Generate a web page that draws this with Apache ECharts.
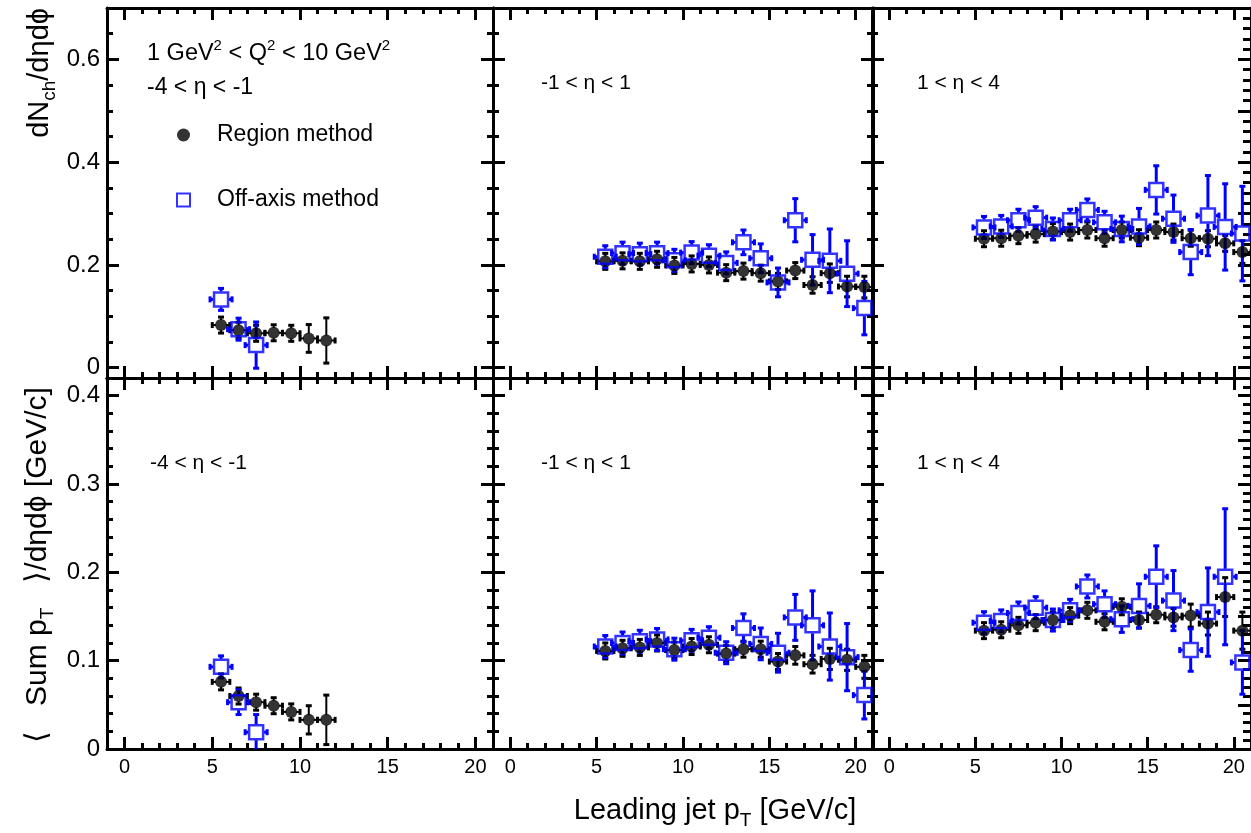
<!DOCTYPE html>
<html>
<head>
<meta charset="utf-8">
<script src="https://cdn.jsdelivr.net/npm/echarts@6/dist/echarts.min.js"></script>
<style>
  html, body { margin: 0; padding: 0; background: #ffffff; }
  #chart { width: 1251px; height: 833px; }
</style>
</head>
<body>
<div id="chart"></div>
<script>
// Leading-jet pT bin centres (bins are 1 GeV/c wide)
const PT_BINS = [5.5, 6.5, 7.5, 8.5, 9.5, 10.5, 11.5, 12.5, 13.5, 14.5, 15.5, 16.5, 17.5, 18.5, 19.5, 20.5];
const PT_HALF_WIDTH = 0.5;

// Tick positions
const PT_TICKS = [0, 5, 10, 15, 20];
const PT_MINOR = [1, 2, 3, 4, 6, 7, 8, 9, 11, 12, 13, 14, 16, 17, 18, 19];
const NCH_TICKS = [0, 0.2, 0.4, 0.6];
const NCH_MINOR = [0.05, 0.1, 0.15, 0.25, 0.3, 0.35, 0.45, 0.5, 0.55, 0.65];
const SUM_TICKS = [0, 0.1, 0.2, 0.3, 0.4];
const SUM_MINOR = [0.02, 0.04, 0.06, 0.08, 0.12, 0.14, 0.16, 0.18, 0.22, 0.24, 0.26, 0.28, 0.32, 0.34, 0.36, 0.38];
// finer divisions on the outer right edge
const NCH_EDGE_TICKS = [0, 0.1, 0.2, 0.3, 0.4, 0.5, 0.6, 0.7];
const NCH_EDGE_MINOR = [0.02, 0.04, 0.06, 0.08, 0.12, 0.14, 0.16, 0.18, 0.22, 0.24, 0.26, 0.28, 0.32, 0.34, 0.36, 0.38,
                        0.42, 0.44, 0.46, 0.48, 0.52, 0.54, 0.56, 0.58, 0.62, 0.64, 0.66, 0.68];
const SUM_EDGE_TICKS = [0, 0.05, 0.1, 0.15, 0.2, 0.25, 0.3, 0.35, 0.4];
const SUM_EDGE_MINOR = [0.01, 0.02, 0.03, 0.04, 0.06, 0.07, 0.08, 0.09, 0.11, 0.12, 0.13, 0.14, 0.16, 0.17, 0.18, 0.19,
                        0.21, 0.22, 0.23, 0.24, 0.26, 0.27, 0.28, 0.29, 0.31, 0.32, 0.33, 0.34, 0.36, 0.37, 0.38, 0.39, 0.41];

// dN_ch/deta dphi — region method
const nchRegionBwd    = [0.083, 0.073, 0.067, 0.068, 0.067, 0.057, 0.053];
const nchRegionBwdErr = [0.003, 0.004, 0.004, 0.005, 0.008, 0.027, 0.044];
const nchRegionMid    = [0.207, 0.208, 0.207, 0.211, 0.199, 0.202, 0.200, 0.185, 0.188, 0.184, 0.168, 0.189, 0.161, 0.184, 0.158, 0.157];
const nchRegionMidErr = [0.003, 0.003, 0.003, 0.003, 0.004, 0.004, 0.005, 0.006, 0.007, 0.009, 0.012, 0.012, 0.016, 0.018, 0.020, 0.021];
const nchRegionFwd    = [0.251, 0.252, 0.257, 0.260, 0.265, 0.264, 0.268, 0.252, 0.268, 0.253, 0.268, 0.264, 0.252, 0.251, 0.242, 0.225];
const nchRegionFwdErr = [0.003, 0.003, 0.003, 0.003, 0.004, 0.004, 0.004, 0.005, 0.006, 0.007, 0.008, 0.009, 0.010, 0.011, 0.013, 0.022];
// dN_ch/deta dphi — off-axis method
const nchOffBwd       = [0.133, 0.075, 0.044];
const nchOffBwdErr    = [0.005, 0.019, 0.045];
const nchOffMid       = [0.216, 0.223, 0.221, 0.223, 0.209, 0.224, 0.218, 0.204, 0.244, 0.213, 0.166, 0.287, 0.210, 0.208, 0.183, 0.116];
const nchOffMidErr    = [0.004, 0.004, 0.005, 0.005, 0.006, 0.007, 0.008, 0.012, 0.024, 0.028, 0.028, 0.042, 0.049, 0.062, 0.064, 0.052];
const nchOffFwd       = [0.273, 0.275, 0.287, 0.292, 0.270, 0.287, 0.307, 0.283, 0.270, 0.275, 0.346, 0.290, 0.225, 0.296, 0.274, 0.261];
const nchOffFwdErr    = [0.004, 0.004, 0.004, 0.005, 0.005, 0.007, 0.017, 0.021, 0.025, 0.035, 0.047, 0.046, 0.044, 0.078, 0.084, 0.092];

// <Sum pT>/deta dphi — region method
const sumRegionBwd    = [0.076, 0.060, 0.053, 0.049, 0.042, 0.033, 0.033];
const sumRegionBwdErr = [0.002, 0.003, 0.003, 0.004, 0.009, 0.016, 0.028];
const sumRegionMid    = [0.111, 0.114, 0.115, 0.120, 0.112, 0.116, 0.118, 0.108, 0.113, 0.113, 0.099, 0.106, 0.096, 0.102, 0.101, 0.093];
const sumRegionMidErr = [0.002, 0.002, 0.002, 0.002, 0.003, 0.003, 0.003, 0.004, 0.005, 0.006, 0.009, 0.010, 0.010, 0.012, 0.012, 0.013];
const sumRegionFwd    = [0.134, 0.135, 0.140, 0.143, 0.146, 0.151, 0.157, 0.144, 0.161, 0.146, 0.152, 0.149, 0.151, 0.142, 0.172, 0.134];
const sumRegionFwdErr = [0.002, 0.002, 0.002, 0.003, 0.003, 0.003, 0.004, 0.005, 0.007, 0.007, 0.008, 0.010, 0.013, 0.013, 0.022, 0.021];
// <Sum pT>/deta dphi — off-axis method
const sumOffBwd       = [0.093, 0.053, 0.019];
const sumOffBwdErr    = [0.004, 0.014, 0.020];
const sumOffMid       = [0.116, 0.120, 0.122, 0.124, 0.113, 0.123, 0.126, 0.109, 0.137, 0.119, 0.109, 0.149, 0.140, 0.116, 0.104, 0.061];
const sumOffMidErr    = [0.003, 0.003, 0.004, 0.004, 0.004, 0.005, 0.006, 0.010, 0.016, 0.018, 0.022, 0.026, 0.039, 0.038, 0.038, 0.027];
const sumOffFwd       = [0.143, 0.145, 0.154, 0.160, 0.146, 0.157, 0.184, 0.164, 0.147, 0.162, 0.195, 0.168, 0.112, 0.155, 0.195, 0.098];
const sumOffFwdErr    = [0.003, 0.003, 0.004, 0.004, 0.004, 0.005, 0.013, 0.015, 0.015, 0.025, 0.035, 0.034, 0.024, 0.050, 0.077, 0.036];

const FONT = '"Liberation Sans", Arial, Helvetica, sans-serif';
const BLUE = '#0000ff';
const BLACK = '#000000';

// panel layout: 2 rows x 3 columns
const COLS = [
  { left: 107, width: 386 },
  { left: 493, width: 380 },
  { left: 872, width: 382 }
];
const ROWS = [
  { top: 8,   height: 370, min: -0.02, max: 0.70, ticks: NCH_TICKS, minor: NCH_MINOR, edgeTicks: NCH_EDGE_TICKS, edgeMinor: NCH_EDGE_MINOR },
  { top: 378, height: 371, min: 0,     max: 0.42, ticks: SUM_TICKS, minor: SUM_MINOR, edgeTicks: SUM_EDGE_TICKS, edgeMinor: SUM_EDGE_MINOR }
];
const PANELS = [
  { row: 0, col: 0, region: nchRegionBwd, regionErr: nchRegionBwdErr, off: nchOffBwd, offErr: nchOffBwdErr },
  { row: 0, col: 1, region: nchRegionMid, regionErr: nchRegionMidErr, off: nchOffMid, offErr: nchOffMidErr },
  { row: 0, col: 2, region: nchRegionFwd, regionErr: nchRegionFwdErr, off: nchOffFwd, offErr: nchOffFwdErr },
  { row: 1, col: 0, region: sumRegionBwd, regionErr: sumRegionBwdErr, off: sumOffBwd, offErr: sumOffBwdErr },
  { row: 1, col: 1, region: sumRegionMid, regionErr: sumRegionMidErr, off: sumOffMid, offErr: sumOffMidErr },
  { row: 1, col: 2, region: sumRegionFwd, regionErr: sumRegionFwdErr, off: sumOffFwd, offErr: sumOffFwdErr }
];

const MAJOR_LEN = 12, MINOR_LEN = 6, FRAME_W = 3;
const REGION_SIZE = 12, OFF_SIZE = 14;

function tickAxis(common, position, values, len, withLine, labelCfg) {
  return Object.assign({}, common, {
    position: position,
    axisLine: { show: withLine, onZero: false, lineStyle: { color: BLACK, width: FRAME_W } },
    axisTick: { show: true, inside: true, length: len, customValues: values, lineStyle: { color: BLACK, width: FRAME_W } },
    axisLabel: labelCfg || { show: false },
    splitLine: { show: false },
    silent: true
  });
}

const grids = [], xAxes = [], yAxes = [], series = [];

// x/y error bars with end caps, leaving a gap where the marker sits
function errorBars(color, lineW, gap) {
  return function (params, api) {
    const x = api.value(0), y = api.value(1), e = api.value(2);
    const c = api.coord([x, y]);
    const xl = api.coord([x - PT_HALF_WIDTH, y])[0];
    const xr = api.coord([x + PT_HALF_WIDTH, y])[0];
    const yt = api.coord([x, y + e])[1];
    const yb = api.coord([x, y - e])[1];
    const arm = gap + 3, cap = 3;
    const up = Math.max(c[1] - yt, arm), dn = Math.max(yb - c[1], arm);
    const lf = Math.max(c[0] - xl, arm), rt = Math.max(xr - c[0], arm);
    const seg = (x1, y1, x2, y2, w) => ({ type: 'line', shape: { x1, y1, x2, y2 }, style: { stroke: color, lineWidth: w } });
    return {
      type: 'group',
      children: [
        seg(c[0], c[1] - gap, c[0], c[1] - up, lineW), seg(c[0] - cap, c[1] - up, c[0] + cap, c[1] - up, 3),
        seg(c[0], c[1] + gap, c[0], c[1] + dn, lineW), seg(c[0] - cap, c[1] + dn, c[0] + cap, c[1] + dn, 3),
        seg(c[0] - gap, c[1], c[0] - lf, c[1], lineW), seg(c[0] - lf, c[1] - cap, c[0] - lf, c[1] + cap, 3),
        seg(c[0] + gap, c[1], c[0] + rt, c[1], lineW), seg(c[0] + rt, c[1] - cap, c[0] + rt, c[1] + cap, 3)
      ]
    };
  };
}

PANELS.forEach((p, gi) => {
  const col = COLS[p.col], row = ROWS[p.row];
  grids.push({ left: col.left, top: row.top, width: col.width, height: row.height, containLabel: false });

  const xc = { type: 'value', gridIndex: gi, min: -1, max: 21 };
  const xLabel = p.row === 1
    ? { show: true, customValues: PT_TICKS, fontSize: 20, fontFamily: FONT, color: BLACK, margin: 8 }
    : { show: false };
  const xBase = xAxes.length;
  xAxes.push(tickAxis(xc, 'bottom', PT_TICKS, MAJOR_LEN, true, xLabel));
  xAxes.push(tickAxis(xc, 'bottom', PT_MINOR, MINOR_LEN, false));
  xAxes.push(tickAxis(xc, 'top', PT_TICKS, MAJOR_LEN, true));
  xAxes.push(tickAxis(xc, 'top', PT_MINOR, MINOR_LEN, false));

  const yc = { type: 'value', gridIndex: gi, min: row.min, max: row.max };
  const yLabel = p.col === 0
    ? { show: true, customValues: row.ticks, fontSize: 24, fontFamily: FONT, color: BLACK, margin: 7 }
    : { show: false };
  const yBase = yAxes.length;
  const outer = p.col === 2;
  yAxes.push(tickAxis(yc, 'left', row.ticks, MAJOR_LEN, true, yLabel));
  yAxes.push(tickAxis(yc, 'left', row.minor, MINOR_LEN, false));
  yAxes.push(tickAxis(yc, 'right', outer ? row.edgeTicks : row.ticks, outer ? 13 : MAJOR_LEN, true));
  yAxes.push(tickAxis(yc, 'right', outer ? row.edgeMinor : row.minor, outer ? 8 : MINOR_LEN, false));

  const regionData = p.region.map((v, i) => [PT_BINS[i], v, p.regionErr[i]]);
  const offData = p.off.map((v, i) => [PT_BINS[i], v, p.offErr[i]]);

  series.push({
    type: 'custom', name: 'Region method errors', xAxisIndex: xBase, yAxisIndex: yBase,
    renderItem: errorBars(BLACK, 2, 5), data: regionData, encode: { x: 0, y: 1 }, clip: true, silent: true
  });
  series.push({
    type: 'scatter', name: 'Region method', xAxisIndex: xBase, yAxisIndex: yBase,
    data: regionData.map(d => [d[0], d[1]]), symbol: 'circle', symbolSize: REGION_SIZE,
    itemStyle: { color: BLACK }, clip: true, silent: true
  });
  series.push({
    type: 'custom', name: 'Off-axis method errors', xAxisIndex: xBase, yAxisIndex: yBase,
    renderItem: errorBars(BLUE, 3, 8), data: offData, encode: { x: 0, y: 1 }, clip: true, silent: true
  });
  series.push({
    type: 'scatter', name: 'Off-axis method', xAxisIndex: xBase, yAxisIndex: yBase,
    data: offData.map(d => [d[0], d[1]]), symbol: 'rect', symbolSize: OFF_SIZE,
    itemStyle: { color: 'rgba(0,0,0,0)', borderColor: BLUE, borderWidth: 2.5 }, clip: true, silent: true
  });
});

function label(x, y, text, size, extra) {
  return Object.assign({
    type: 'text', x: x, y: y, silent: true,
    style: Object.assign({
      text: text, fontSize: size, fontFamily: FONT, fill: BLACK,
      align: 'left', textAlign: 'left', verticalAlign: 'middle', textVerticalAlign: 'middle'
    }, (extra && extra.style) || {})
  }, (extra && extra.el) || {});
}

const supRich = { sup: { fontSize: 15, fontFamily: FONT, lineHeight: 15, verticalAlign: 'top', fill: BLACK } };
const subRich = (s) => ({ sub: { fontSize: s, fontFamily: FONT, lineHeight: s, verticalAlign: 'bottom', fill: BLACK } });

const graphics = [
  label(147, 54, '1 GeV{sup|2} < Q{sup|2} < 10 GeV{sup|2}', 23.5, { style: { lineHeight: 32, rich: supRich } }),
  label(147, 88, '-4 < η < -1', 23),
  label(541, 83, '-1 < η < 1', 21),
  label(917, 83, '1 < η < 4', 21),
  label(150, 463, '-4 < η < -1', 21),
  label(541, 463, '-1 < η < 1', 21),
  label(917, 463, '1 < η < 4', 21),
  // axis titles
  label(40, 8, 'dN{sub|ch}/dηdϕ', 29, {
    style: { align: 'right', textAlign: 'right', lineHeight: 38, rich: subRich(19) },
    el: { rotation: Math.PI / 2 }
  }),
  label(38, 743, '⟨   Sum p{sub|T}   ⟩/dηdϕ [GeV/c]', 30, {
    style: { align: 'left', textAlign: 'left', lineHeight: 38, rich: subRich(19) },
    el: { rotation: Math.PI / 2 }
  }),
  label(715, 811, 'Leading jet p{sub|T} [GeV/c]', 29, {
    style: { align: 'center', textAlign: 'center', lineHeight: 38, rich: subRich(19) }
  })
];

const chart = echarts.init(document.getElementById('chart'), null, { renderer: 'canvas' });
chart.setOption({
  animation: false,
  backgroundColor: '#ffffff',
  grid: grids,
  xAxis: xAxes,
  yAxis: yAxes,
  legend: {
    show: true,
    orient: 'vertical',
    left: 171,
    top: 117,
    itemWidth: 13,
    itemHeight: 13,
    itemGap: 39,
    selectedMode: false,
    textStyle: { fontSize: 23, fontFamily: FONT, color: BLACK, lineHeight: 26, padding: [0, 0, 0, 22] },
    data: [
      { name: 'Region method', icon: 'circle', itemStyle: { color: BLACK, borderWidth: 0 } },
      { name: 'Off-axis method', icon: 'rect', itemStyle: { color: 'rgba(0,0,0,0)', borderColor: BLUE, borderWidth: 2 } }
    ]
  },
  graphic: graphics,
  series: series
});
</script>
</body>
</html>
